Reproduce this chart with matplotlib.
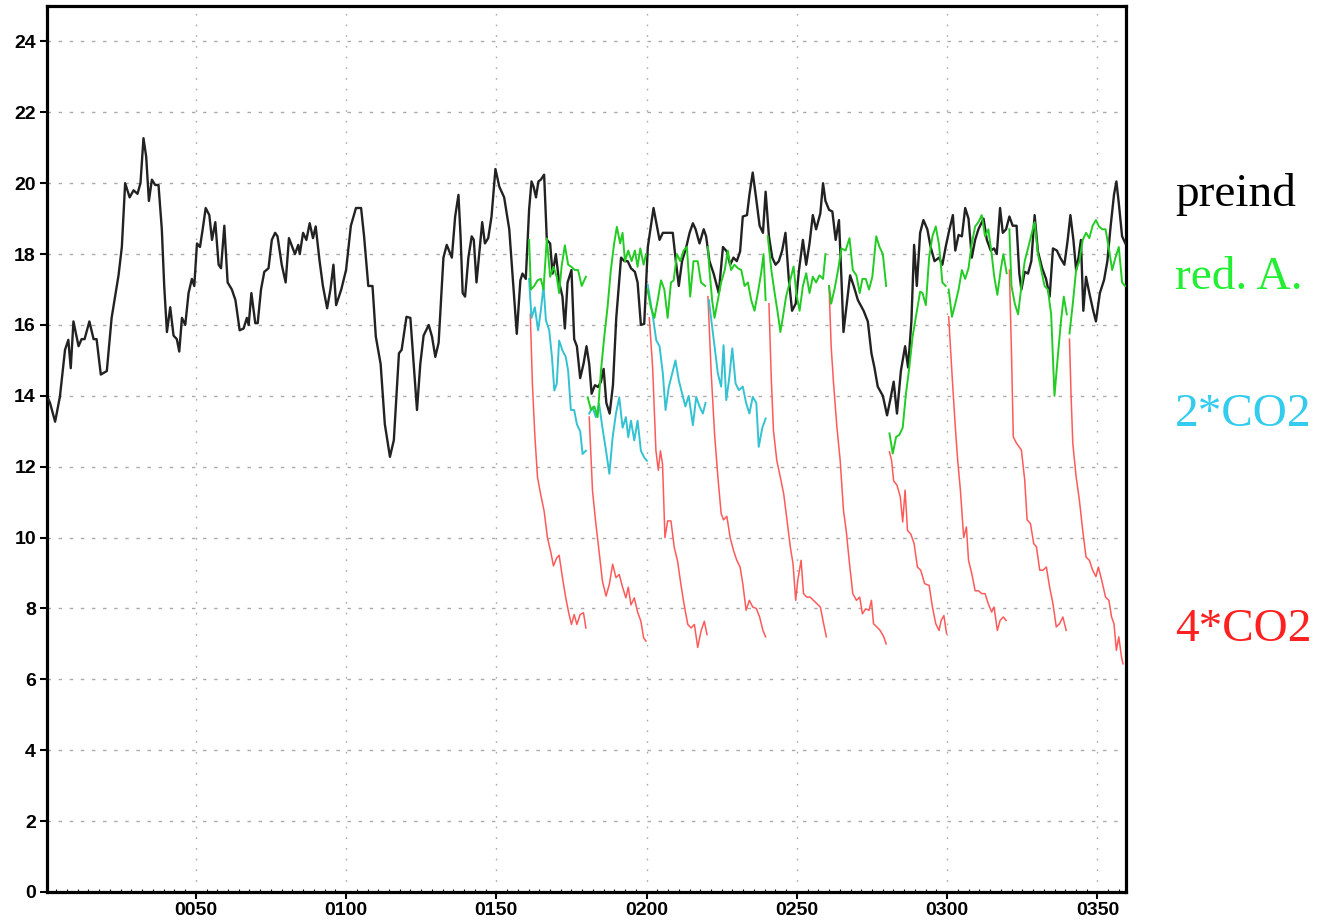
import numpy as np
import matplotlib
matplotlib.use("Agg")
import matplotlib.pyplot as plt
from matplotlib.ticker import MultipleLocator, FixedLocator

# ---------------- data (year, value) ----------------
black = [(1.0,13.9),(1.5,13.8),(3.2,13.27),(4.8,13.98),(6.5,15.3),(7.6,15.58),(8.4,14.78),(9.3,16.1),(11,15.4),(12,15.6),(13,15.6),(14.6,16.1),(16,15.6),(17,15.6),(18.4,14.6),(20.4,14.7),(22,16.2),(24.3,17.4),(25.4,18.2),(26.5,20.0),(28,19.6),(29.3,19.8),(30.6,19.7),(31.6,20.0),(32.6,21.27),(33.5,20.75),(34.4,19.5),(35.4,20.1),(36.5,19.95),(37.6,19.95),(38.7,18.7),(39.5,17.1),(40.4,15.8),(41.5,16.5),(42.6,15.7),(43.7,15.6),(44.5,15.25),(45.4,16.2),(46.5,16.0),(47.6,16.9),(48.7,17.3),(49.5,17.1),(50.4,18.3),(51.4,18.2),(52.3,18.7),(53.3,19.3),(54.5,19.1),(55.4,18.4),(56.5,18.9),(57.6,17.7),(58.4,17.6),(59.5,18.8),(60.6,17.2),(62,17.0),(63.2,16.7),(64.6,15.85),(65.9,15.9),(67,16.2),(67.6,16.0),(68.5,16.9),(69.8,16.05),(70.6,16.05),(71.7,17.0),(72.8,17.5),(74.2,17.6),(75.3,18.4),(76.4,18.6),(77.2,18.5),(78.6,17.7),(79.9,17.2),(81,18.45),(83,18.0),(84.1,18.26),(84.6,18.0),(85.7,18.6),(86.8,18.4),(87.9,18.87),(89,18.45),(89.9,18.78),(91.2,17.8),(92.3,17.1),(93.7,16.47),(94.8,17.0),(95.8,17.7),(96.7,16.56),(98.4,17.0),(100,17.55),(101.6,18.8),(103.3,19.3),(105,19.3),(106,18.5),(107.4,17.1),(108.8,17.1),(109.9,15.67),(111.5,14.9),(112.9,13.2),(114.6,12.28),(115.9,12.75),(117.6,15.2),(118.5,15.3),(120.1,16.23),(121.4,16.2),(122.5,14.9),(123.6,13.6),(124.7,14.9),(125.8,15.7),(127.5,16.0),(128.6,15.67),(129.7,15.1),(130.8,15.5),(132.4,17.9),(133.5,18.26),(135.2,17.9),(136.3,19.06),(137.4,19.67),(138.1,18.5),(138.8,16.9),(139.6,16.8),(140.7,17.9),(141.8,18.5),(142.5,18.4),(143.4,17.2),(144.3,18.0),(145.3,18.9),(146.2,18.3),(147.3,18.45),(148.4,19.06),(149.7,20.4),(151,19.9),(152.6,19.6),(154.3,18.7),(156.8,15.75),(158,17.26),(158.7,17.45),(159.8,17.3),(160.9,19.25),(161.7,20.05),(162.4,19.9),(163.2,19.6),(164,20.05),(164.8,20.1),(165.9,20.24),(166.8,18.4),(167.9,18.3),(168.7,17.45),(169.8,18.0),(170.9,17.2),(172,16.8),(172.8,15.9),(173.7,17.2),(175,17.55),(175.9,15.6),(176.8,15.4),(177.9,14.5),(179,14.9),(180,15.4),(180.9,14.9),(181.7,14.06),(182.8,14.3),(183.9,14.25),(184.8,14.4),(185.7,14.76),(186.6,13.8),(187.7,13.5),(188.8,14.3),(189.9,16.2),(191.5,17.9),(192.6,17.8),(193.7,17.8),(194.8,17.6),(196.1,17.5),(197.0,17.2),(198.1,16.0),(199.2,16.03),(200.4,18.2),(202.3,19.3),(204.3,18.4),(205.4,18.6),(207.1,18.6),(208.7,18.6),(209.6,17.9),(210.7,17.1),(211.8,17.8),(213.2,18.2),(214.3,18.6),(215.4,18.87),(216.3,18.7),(217.6,18.3),(219,18.7),(219.8,18.5),(220.9,17.8),(222.3,17.45),(224,16.9),(225.4,18.2),(226.7,18.07),(227.8,17.7),(228.9,17.9),(230,17.8),(231.1,18.07),(232,19.06),(233.4,19.1),(234.2,19.67),(235.3,20.3),(236.4,19.6),(237.6,18.8),(238.7,18.6),(239.6,19.76),(240.7,18.5),(241.8,17.9),(242.9,17.7),(244,17.8),(245.1,18.1),(246.2,18.6),(247.3,17.3),(248.4,16.4),(249.6,16.6),(250.7,17.55),(252,18.4),(253.1,17.7),(254.2,18.3),(255.3,19.1),(256.4,18.7),(257.8,19.15),(258.7,20.0),(259.5,19.5),(260.7,19.25),(261.8,19.2),(262.9,18.4),(264,18.96),(264.8,17.36),(265.5,15.8),(266.6,16.6),(267.7,17.4),(268.9,17.1),(270.3,16.7),(272.2,16.4),(273.6,16.1),(274.8,15.2),(275.8,14.8),(276.9,14.26),(278.6,14.0),(280,13.45),(281.1,13.9),(282.2,14.4),(283.3,13.5),(284.6,14.7),(286,15.4),(287,14.8),(288.1,16.1),(289,18.26),(289.9,17.1),(291,18.6),(292.1,18.96),(293.4,18.7),(294.5,18.2),(295.8,17.8),(297.3,17.9),(298.4,17.7),(299.5,18.2),(300.5,18.6),(301.9,19.1),(302.7,18.1),(303.8,18.54),(304.9,18.5),(306,19.3),(307.1,19.0),(308.2,17.9),(309.3,18.4),(310.4,18.7),(312.1,19.0),(313.2,18.4),(314.5,18.1),(315.6,18.16),(316.5,18.0),(317.6,19.3),(318.5,18.6),(319.6,18.7),(320.7,19.06),(321.8,18.8),(323.1,18.8),(324,17.45),(324.7,17.0),(325.8,17.5),(326.9,17.45),(328,17.8),(329.1,19.1),(330.2,18.07),(331.6,17.6),(332.9,17.3),(334.1,16.8),(335.2,18.16),(336.5,18.1),(337.6,17.9),(339,17.7),(340.1,18.4),(341,19.1),(342,18.4),(342.9,17.55),(343.7,17.9),(344.5,18.4),(345.3,16.4),(346.2,17.36),(347.3,16.9),(348.6,16.4),(349.5,16.1),(350.8,16.9),(352.2,17.27),(353.3,17.8),(354.4,18.8),(355.5,19.67),(356.3,20.05),(357.1,19.44),(358.2,18.5),(359.3,18.3)]

green_runs = [
    [(160.9,18.4),(161.5,17.0),(162.6,17.1),(163.7,17.26),(164.8,17.3),(165.7,17.0),(166.8,18.44),(167.9,17.36),(169,17.64),(170.1,17.36),(170.9,16.9),(171.7,17.64),(172.8,18.25),(173.9,17.7),(175,17.64),(176.1,17.55),(177.2,17.55),(178.4,17.1),(179.8,17.36)],
    [(180.4,13.96),(181.5,13.6),(182.6,13.7),(183.7,13.4),(184.8,14.7),(185.9,15.66),(187,16.5),(188.1,17.55),(189.2,18.3),(190.1,18.77),(191.2,18.3),(192,18.6),(192.8,17.8),(193.9,18.1),(195,17.8),(196.1,18.1),(197,17.64),(197.9,18.16),(199,17.7),(199.8,18.0)],
    [(200.3,17.0),(201.4,16.5),(202.6,16.2),(203.7,16.7),(204.8,17.26),(205.9,17.0),(207,16.2),(208.1,17.2),(209,17.26),(210.1,18.0),(211.2,17.8),(212.3,18.1),(213.4,18.2),(214.5,16.8),(215.6,17.8),(217,17.8),(218.1,17.2),(219.5,17.1)],
    [(220.4,18.2),(220.9,17.55),(221.8,16.7),(222.6,16.2),(223.7,16.7),(224.8,17.2),(226,17.55),(227,18.1),(228.1,17.55),(229.2,17.7),(230.4,17.6),(231.5,17.55),(232.6,17.1),(233.7,17.2),(234.8,16.7),(235.9,16.4),(237,16.9),(238.1,17.46),(238.9,18.0),(239.6,16.7)],
    [(240.3,18.5),(241.5,17.55),(242.6,16.9),(243.7,16.3),(244.5,15.8),(245.3,16.2),(246.4,16.8),(247.6,17.2),(248.9,17.65),(249.8,16.9),(250.9,16.4),(252,17.1),(253.1,17.46),(254.2,16.9),(255.3,17.36),(256.4,17.2),(257.5,17.4),(258.7,17.3),(259.5,18.0)],
    [(260.7,17.1),(261.4,16.6),(262.5,17.0),(263.7,17.55),(264.8,18.16),(266.2,18.1),(267.5,18.45),(268.6,17.55),(269.8,17.4),(270.9,16.9),(271.8,17.3),(272.9,17.3),(274,17.0),(275.1,17.36),(276.4,18.5),(277.5,18.2),(278.6,18.0),(279.7,17.1)],
    [(280.8,12.94),(281.9,12.37),(283,12.84),(284.1,12.9),(285.2,13.1),(286.3,14.07),(287.4,14.8),(288.5,15.67),(289.6,16.23),(291,16.94),(291.8,16.9),(292.9,16.56),(294,17.9),(295.1,18.5),(296.2,18.78),(297.3,18.26),(298.4,17.2),(299.5,17.1)],
    [(300.5,17.0),(301.6,16.23),(302.7,16.6),(303.8,17.0),(304.9,17.55),(306,17.3),(307.1,17.6),(308.2,18.3),(309.3,18.78),(310.4,18.9),(311.5,19.1),(312.6,18.5),(313.7,18.7),(314.8,18.0),(315.6,17.4),(316.7,16.85),(317.8,17.55),(318.7,18.0),(319.8,17.46)],
    [(320.7,18.7),(321.4,17.1),(322.5,16.6),(323.6,16.3),(324.7,17.1),(325.8,17.8),(326.9,18.16),(328,18.54),(329.1,18.9),(330.2,18.0),(331.3,17.55),(332.4,17.1),(333.5,17.0),(334.6,16.3),(335.7,14.0),(336.8,15.1),(337.9,16.14),(338.8,16.8),(339.8,16.3)],
    [(340.7,15.76),(341.8,16.6),(342.9,17.55),(344,17.8),(345.1,18.4),(346.2,18.6),(347.3,18.45),(348.4,18.8),(349.5,18.96),(350.5,18.78),(351.6,18.7),(352.7,18.7),(353.8,18.16),(354.9,17.55),(356,17.9),(357.1,18.2),(358.2,17.2),(359.2,17.1)],
]

cyan_runs = [
    [(160.9,17.3),(161.7,16.2),(162.8,16.5),(163.9,15.85),(164.8,16.4),(165.7,17.1),(166.5,16.13),(167.6,15.85),(168.5,15.1),(169.3,14.15),(170.1,14.34),(170.9,15.56),(172,15.28),(173.1,15.1),(173.9,14.7),(174.8,13.6),(175.9,13.6),(176.8,13.2),(177.9,13.0),(178.7,12.36),(179.8,12.45)],
    [(180.9,13.5),(182,13.68),(183.1,13.4),(184.2,13.77),(185.3,13.1),(186.5,12.45),(187.6,11.8),(188.7,12.83),(189.8,13.5),(190.9,13.96),(192,13.1),(193.1,13.4),(193.9,12.83),(194.8,13.3),(195.9,12.74),(197,13.3),(198.1,12.45),(199.2,12.26),(200.1,12.17)],
    [(200.4,17.13),(201.2,16.7),(202.1,16.23),(203.2,15.57),(204.3,15.4),(205.4,14.63),(206.3,13.6),(207.4,14.26),(208.5,14.63),(209.6,15.0),(210.7,14.44),(211.8,14.07),(212.9,13.7),(214,14.0),(215.4,13.17),(216.5,13.97),(217.6,13.7),(218.7,13.5),(219.6,13.8)],
    [(220.7,16.7),(221.8,15.95),(222.6,15.4),(223.7,14.63),(224.8,14.26),(225.6,15.43),(226.5,13.88),(227.4,14.44),(228.5,15.34),(229.6,14.35),(230.7,14.16),(232,14.26),(233.1,13.8),(234.2,13.5),(235.3,13.97),(236.5,13.8),(237.3,12.56),(238.5,13.1),(239.6,13.36)],
]

red_runs = [
    [(161.3,16.3),(162.0,14.34),(162.8,12.9),(163.7,11.7),(164.8,11.2),(165.9,10.75),(167,10.0),(168.1,9.6),(169,9.2),(170.1,9.43),(170.9,9.5),(172,8.87),(173.1,8.3),(174.2,7.83),(175,7.55),(175.9,7.83),(176.8,7.55),(177.9,7.83),(179,7.88),(179.8,7.45)],
    [(180.9,13.4),(182,11.32),(183.1,10.4),(184.2,9.6),(185.3,8.77),(186.5,8.35),(187.6,8.68),(188.7,9.25),(189.8,8.87),(190.9,8.96),(192,8.6),(193.1,8.3),(193.9,8.6),(194.8,8.1),(195.9,8.3),(197,7.9),(198.1,7.64),(199,7.17),(199.8,7.08)],
    [(200.9,16.2),(202,14.8),(203.1,12.45),(203.9,11.9),(204.6,12.45),(205.3,12.07),(206.1,10.0),(207,10.47),(208.1,10.47),(209.2,9.72),(210.3,9.34),(211.4,8.68),(212.5,8.1),(213.7,7.55),(214.8,7.45),(215.9,7.55),(217,6.9),(218.1,7.36),(219.2,7.64),(220.1,7.26)],
    [(220.4,16.8),(221.5,14.63),(222.6,12.94),(223.7,11.72),(224.8,10.68),(225.6,10.5),(226.7,10.6),(227.8,10.0),(228.9,9.64),(230,9.36),(231.1,9.17),(232,8.7),(233.1,7.95),(234.2,8.23),(235.3,8.04),(236.5,8.0),(237.6,7.76),(238.7,7.38),(239.6,7.2)],
    [(240.7,16.6),(241.5,14.44),(242.2,13.03),(243.3,12.18),(244.5,11.7),(245.6,11.24),(246.7,10.5),(247.8,9.74),(248.7,9.27),(249.6,8.23),(250.3,8.8),(251.4,9.36),(252.2,8.42),(253.3,8.32),(254.4,8.32),(255.5,8.23),(256.7,8.13),(257.8,8.04),(258.9,7.57),(259.8,7.2)],
    [(260.7,17.1),(261.4,15.4),(262.2,14.35),(263.3,13.13),(264.4,12.18),(265.5,10.77),(266.4,10.2),(267.5,9.27),(268.6,8.42),(269.8,8.23),(270.9,8.32),(271.8,7.85),(272.9,7.99),(274,7.95),(274.8,8.23),(275.5,7.57),(276.6,7.48),(277.7,7.38),(278.9,7.2),(279.7,7.0)],
    [(280.8,12.42),(281.5,12.18),(282.2,11.6),(283.3,11.48),(284.4,11.15),(285.2,10.44),(286,11.34),(286.8,10.2),(287.9,10.1),(289,9.83),(290.1,9.17),(291.2,9.08),(292.5,8.7),(294,8.65),(295.1,8.04),(296.2,7.57),(297.3,7.38),(298,7.66),(298.9,7.8),(299.8,7.29)],
    [(300.5,16.23),(301.6,14.63),(302.7,13.13),(303.5,12.18),(304.4,11.34),(305.5,10.0),(306.4,10.3),(307.1,9.36),(308.2,8.98),(309.3,8.5),(310.4,8.5),(311.5,8.42),(312.6,8.42),(313.7,8.13),(314.8,7.9),(315.6,8.04),(316.7,7.38),(317.6,7.66),(318.7,7.76),(319.6,7.66)],
    [(320.7,17.55),(321.4,15.2),(322,12.84),(323.1,12.66),(324.7,12.47),(325.8,11.62),(326.6,10.5),(327.7,10.4),(328.8,9.83),(329.7,9.74),(330.8,9.08),(331.9,9.08),(333,9.17),(334.1,8.6),(335.2,8.13),(336.3,7.48),(337.4,7.57),(338.5,7.76),(339.6,7.38)],
    [(340.7,15.6),(341.2,14.07),(341.8,12.66),(342.9,11.72),(344,11.05),(345.1,10.2),(346.2,9.45),(347.3,9.36),(348.4,9.08),(349.5,8.9),(350.3,9.17),(351.4,8.8),(352.7,8.32),(353.8,8.23),(354.7,7.76),(355.5,7.57),(356.3,6.82),(357.1,7.2),(358,6.63),(358.5,6.44)],
]

x_ticks = [50, 100, 150, 200, 250, 300, 350]
x_tick_labels = ["0050", "0100", "0150", "0200", "0250", "0300", "0350"]
y_ticks = [0, 2, 4, 6, 8, 10, 12, 14, 16, 18, 20, 22, 24]

series_labels = ["preind", "red. A.", "2*CO2", "4*CO2"]
label_colors = ["#000000", "#22ee33", "#33ccee", "#ff2020"]

# ---------------- figure ----------------
fig = plt.figure(figsize=(13.17, 9.23), dpi=100)
ax = fig.add_axes([47/1317, 31/923, (1126-47)/1317, (892-6)/923])

bx, by = zip(*black)
ax.plot(bx, by, color="#222222", lw=1.7, zorder=3)
for run in red_runs:
    x, y = zip(*run)
    ax.plot(x, y, color="#ff5a5a", lw=1.1, zorder=4)
for run in cyan_runs:
    x, y = zip(*run)
    ax.plot(x, y, color="#33c2d2", lw=1.4, zorder=5)
for run in green_runs:
    x, y = zip(*run)
    ax.plot(x, y, color="#22cc22", lw=1.4, zorder=6)

ax.set_xlim(0.5, 359.5)
ax.set_ylim(0, 25)

ax.xaxis.set_major_locator(FixedLocator(x_ticks))
ax.set_xticklabels(x_tick_labels)
ax.xaxis.set_minor_locator(MultipleLocator(50/14))
ax.yaxis.set_major_locator(FixedLocator(y_ticks))
ax.set_yticklabels([str(v) for v in y_ticks])

for lab in ax.get_xticklabels() + ax.get_yticklabels():
    lab.set_fontfamily("Liberation Sans")
    lab.set_fontweight("bold")
    lab.set_fontsize(14)

ax.tick_params(axis="both", which="major", direction="out", length=5, width=1.5, pad=3)
ax.tick_params(axis="x", which="minor", direction="in", length=2.5, width=0.8)
ax.tick_params(axis="x", which="major", pad=2)

for sp in ax.spines.values():
    sp.set_linewidth(2.3)
    sp.set_color("black")

# grid: horizontal dashed, vertical dotted
for yv in y_ticks[1:]:
    ax.axhline(yv, color="#ababab", lw=1.0, ls=(0, (2.5, 5.5)), zorder=1)
for xv in x_ticks:
    ax.axvline(xv, color="#ababab", lw=1.0, ls=(0, (1.2, 6.5)), zorder=1)

# right-hand labels
label_y = [195, 278, 415, 630]
for txt, col, py in zip(series_labels, label_colors, label_y):
    fig.text(1175/1317, 1 - py/923, txt, color=col, fontsize=34,
             family="Liberation Serif", ha="left", va="center")

fig.savefig("out.png", dpi=100)
